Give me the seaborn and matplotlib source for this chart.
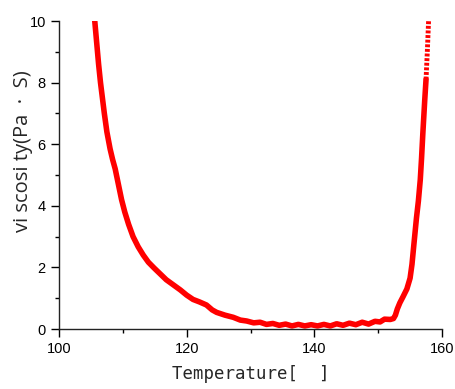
import pandas as pd
import seaborn as sns
import matplotlib
matplotlib.use('Agg')
import matplotlib.pyplot as plt
import matplotlib.ticker as ticker

# Viscosity curve.
temperature = [105.6, 105.9, 106.2, 106.5, 106.8, 107.1, 107.5, 108.0, 108.4,
               108.8, 109.3, 109.8, 110.3, 110.9, 111.6, 112.4, 113.2, 114.0,
               114.9, 115.8, 116.8, 117.8, 119.0, 120.0, 121.0, 122.0, 123.1,
               124.0, 124.7, 126.0, 127.3, 128.4, 129.4, 130.5, 131.5, 132.5,
               133.5, 134.5, 135.5, 136.5, 137.5, 138.5, 139.5, 140.5, 141.5,
               142.5, 143.5, 144.5, 145.5, 146.5, 147.5, 148.5, 149.5, 150.3,
               151.0, 151.9, 152.4, 152.7, 153.0, 153.4, 153.9, 154.5, 155.0,
               155.3, 155.6, 156.0, 156.3, 156.6, 156.8, 157.0, 157.3, 157.5]
viscosity = [10.0, 9.3, 8.6, 8.0, 7.5, 7.0, 6.4, 5.85, 5.5,
             5.2, 4.7, 4.2, 3.8, 3.4, 3.0, 2.67, 2.4, 2.17,
             1.98, 1.8, 1.6, 1.45, 1.27, 1.1, 0.96, 0.88, 0.78,
             0.62, 0.54, 0.45, 0.38, 0.29, 0.26, 0.20, 0.22, 0.15,
             0.18, 0.12, 0.16, 0.10, 0.15, 0.10, 0.14, 0.10, 0.15,
             0.10, 0.17, 0.12, 0.19, 0.14, 0.22, 0.16, 0.25, 0.23,
             0.32, 0.31, 0.34, 0.45, 0.65, 0.85, 1.05, 1.3, 1.65,
             2.1, 2.75, 3.6, 4.15, 4.85, 5.55, 6.35, 7.44, 8.1]

# The top of the right branch is drawn dotted.
tail_temperature = [157.5, 157.7, 157.9]
tail_viscosity = [8.1, 9.0, 10.0]

x_ticks = [100, 120, 140, 160]
y_ticks = [0, 2, 4, 6, 8, 10]


def main():
    sns.set_style('ticks')
    plt.rcParams['font.family'] = ['Liberation Sans', 'DejaVu Sans']

    fig = plt.figure(figsize=(4.55, 3.89), dpi=100)
    ax = fig.add_axes([0.1297, 0.1542, 0.8417, 0.7918])

    df = pd.DataFrame({'T': temperature, 'v': viscosity})
    tail = pd.DataFrame({'T': tail_temperature, 'v': tail_viscosity})
    sns.lineplot(data=df, x='T', y='v', sort=False, color='#ff0000',
                 lw=4, ax=ax)
    sns.lineplot(data=tail, x='T', y='v', sort=False, color='#ff0000',
                 lw=3.5, ax=ax, linestyle=(0, (0.6, 0.35)))

    ax.set_xlim(100, 160)
    ax.set_ylim(0, 10)
    ax.set_xticks(x_ticks)
    ax.set_yticks(y_ticks)
    ax.xaxis.set_minor_locator(ticker.MultipleLocator(10))
    ax.yaxis.set_minor_locator(ticker.MultipleLocator(1))
    ax.tick_params(which='major', direction='out', length=6, width=1,
                   labelsize=10.5, colors='black')
    ax.tick_params(which='minor', direction='out', length=3, width=1,
                   colors='black')

    for side in ['top', 'right']:
        ax.spines[side].set_visible(False)
    for side in ['left', 'bottom']:
        ax.spines[side].set_color('#222222')
        ax.spines[side].set_linewidth(1)

    ax.set_xlabel('Temperature[  ]', fontsize=12.5,
                  family=['Liberation Sans Narrow', 'DejaVu Sans Mono'],
                  labelpad=6)
    ax.set_ylabel('vi scosi ty(Pa  \u00b7  S)', fontsize=14.5,
                  family=['Open Sans', 'DejaVu Sans'])
    # The y label sits a little above the middle of the axis.
    ax.yaxis.set_label_coords(-0.068, 0.576)

    fig.savefig('out.png', dpi=100)


if __name__ == "__main__":
    main()
